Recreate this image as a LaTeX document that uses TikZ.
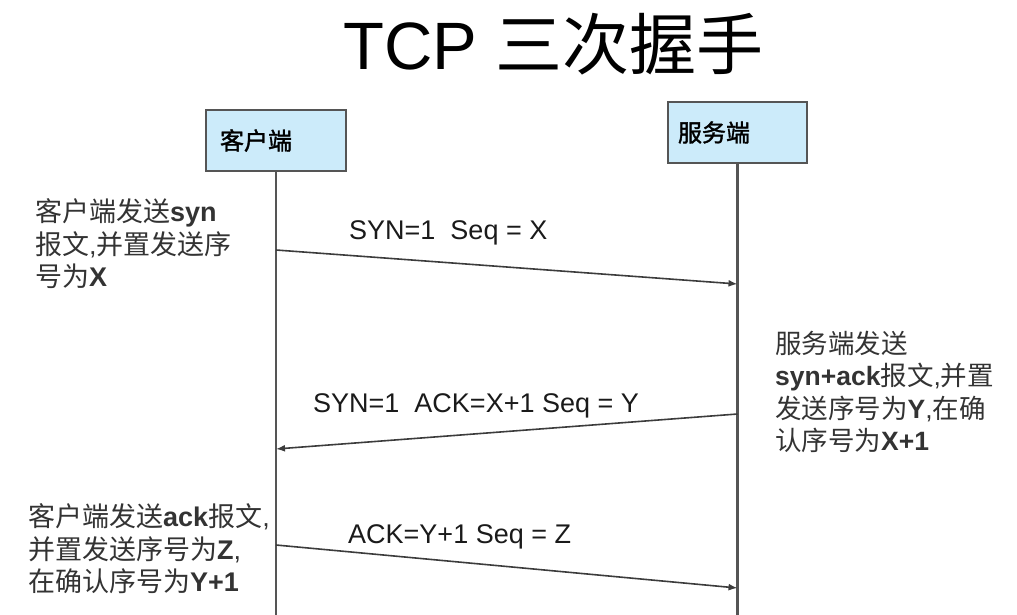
\documentclass[tikz,border=0pt]{standalone}
\usepackage{fontspec}
\setmainfont{Liberation Sans}
\newfontfamily\cjk{Noto Sans CJK SC}[AutoFakeBold=1.5]
\newcommand\zh[1]{{\cjk #1}}
\usetikzlibrary{arrows.meta}
\definecolor{boxfill}{HTML}{CCEBFA}
\definecolor{boxline}{HTML}{555555}
\definecolor{notecol}{HTML}{333333}
\definecolor{labcol}{HTML}{1A1A1A}
\tikzset{
  actor/.style={draw=boxline, line width=1.8pt, fill=boxfill, minimum height=61pt,
    align=left, font=\fontsize{24}{28}\selectfont\bfseries\cjk, text=black},
  life/.style={draw=boxline, line width=2.2pt},
  msg/.style={draw=labcol!85, line width=1.6pt, -{Latex[length=9pt,width=7pt]}},
  note/.style={align=left, inner sep=0pt, text=notecol, font=\fontsize{27}{32.5}\selectfont},
  lab/.style={inner sep=0pt, anchor=base west, text=labcol, font=\fontsize{27}{32}\selectfont},
}
\begin{document}
\begin{tikzpicture}[x=1pt,y=-1pt]
\useasboundingbox (0,0) rectangle (1017,615);
% title
\node[inner sep=0pt, anchor=base west, font=\fontsize{67}{70}\selectfont] (title) at (343,70)
  {TCP \zh{三次握手}};
% actors
\node[actor, text width=112pt, inner xsep=14pt] (cbox) at (276,140.5) {客户端};
\node[actor, text width=119pt, inner xsep=10pt] (sbox) at (737.5,132.5) {服务端};
% lifelines
\coordinate (cend) at (276,615);
\coordinate (send) at (737.5,615);
\draw[life] (cbox.south) -- (cend);
\draw[life] (sbox.south) -- (send);
% message endpoints
\coordinate (m1s) at (276,250);
\coordinate (m1e) at (737.5,284);
\coordinate (m2s) at (737.5,414);
\coordinate (m2e) at (276,449);
\coordinate (m3s) at (276,545);
\coordinate (m3e) at (737.5,588);
\draw[msg] (m1s) -- (m1e);
\draw[msg] (m2s) -- (m2e);
\draw[msg] (m3s) -- (m3e);
% labels
\node[lab] (l1) at (349,239) {SYN=1\ \ Seq = X};
\node[lab] (l2) at (313,412) {SYN=1\ \ ACK=X+1 Seq = Y};
\node[lab] (l3) at (348,543) {ACK=Y+1 Seq = Z};
% notes
\node[note, anchor=west] (n1) at (35,244)
  {\zh{客户端发送}\textbf{syn}\\\zh{报文},\zh{并置发送序}\\\zh{号为}\textbf{X}};
\node[note, anchor=west, font=\fontsize{26.5}{32.3}\selectfont] (n2) at (775,392)
  {\zh{服务端发送}\\\textbf{syn+ack}\zh{报文},\zh{并置}\\\zh{发送序号为}\textbf{Y},\zh{在确}\\\zh{认序号为}\textbf{X+1}};
\node[note, anchor=west] (n3) at (28,549)
  {\zh{客户端发送}\textbf{ack}\zh{报文},\\\zh{并置发送序号为}\textbf{Z},\\\zh{在确认序号为}\textbf{Y+1}};
\end{tikzpicture}
\end{document}
